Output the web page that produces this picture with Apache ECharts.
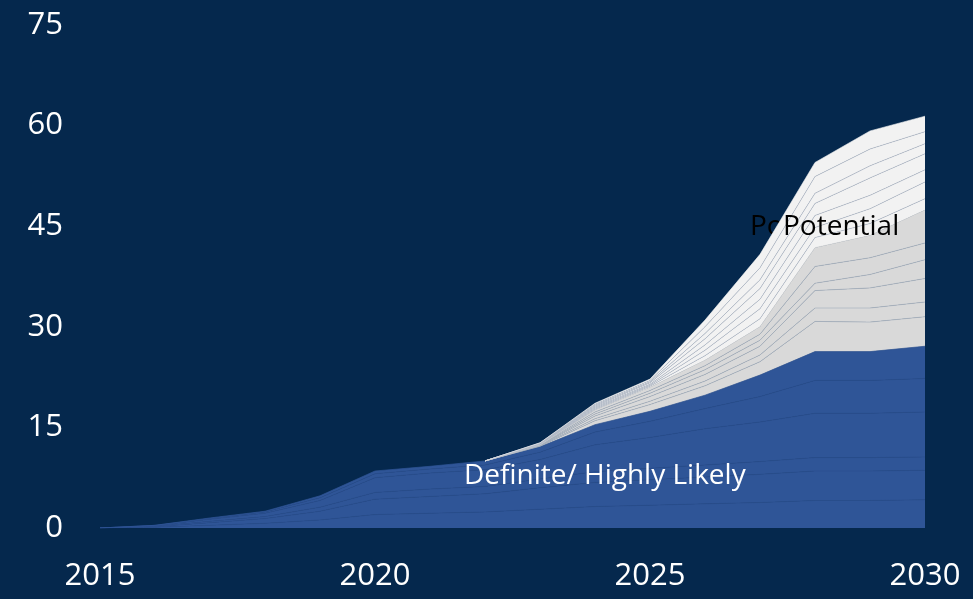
<!DOCTYPE html>
<html>
<head>
<meta charset="utf-8">
<script src="https://cdn.jsdelivr.net/npm/echarts@6/dist/echarts.min.js"></script>
<style>
  html, body { margin: 0; padding: 0; background: #05284d; }
  #chart { width: 973px; height: 599px; }
</style>
</head>
<body>
<div id="chart"></div>
<script>
var years = ['2015','2016','2017','2018','2019','2020','2021','2022','2023','2024','2025','2026','2027','2028','2029','2030'];
var yTicks = [0, 15, 30, 45, 60, 75];

// Definite / Highly Likely layers (blue), bottom to top
var b1 = [0, 0.1, 0.4, 0.7, 1.2, 2.0, 2.2, 2.4, 2.8, 3.2, 3.4, 3.6, 3.8, 4.1, 4.1, 4.2];
var b2 = [0, 0.1, 0.4, 0.7, 1.3, 2.3, 2.5, 2.7, 3.2, 3.6, 3.8, 4.0, 4.2, 4.4, 4.4, 4.4];
var b3 = [0, 0.05, 0.2, 0.3, 0.6, 1.0, 1.1, 1.1, 1.3, 1.6, 1.7, 1.8, 1.9, 2.0, 2.0, 2.0];
var b4 = [0, 0.1, 0.3, 0.5, 1.0, 2.2, 2.4, 2.5, 2.9, 4.0, 4.6, 5.4, 5.9, 6.6, 6.6, 6.7];
var b5 = [0, 0.05, 0.1, 0.2, 0.4, 0.6, 0.6, 0.7, 1.1, 1.9, 2.4, 3.0, 3.8, 4.9, 4.9, 5.0];
var b6 = [0, 0, 0.1, 0.1, 0.3, 0.4, 0.4, 0.6, 0.8, 1.1, 1.5, 2.0, 3.2, 4.3, 4.3, 4.8];

// Potential layers, darker grey
var d1 = ['-','-','-','-','-','-','-', 0, 0.1, 0.6, 1.0, 1.4, 2.0, 4.5, 4.4, 4.4];
var d2 = ['-','-','-','-','-','-','-', 0, 0.05, 0.3, 0.5, 0.7, 1.0, 2.0, 2.1, 2.2];
var d3 = ['-','-','-','-','-','-','-', 0, 0.05, 0.4, 0.7, 1.0, 1.3, 2.6, 3.0, 3.5];
var d4 = ['-','-','-','-','-','-','-', 0, 0.05, 0.3, 0.5, 0.7, 0.9, 1.1, 2.0, 2.8];
var d5 = ['-','-','-','-','-','-','-', 0, 0.05, 0.3, 0.4, 0.6, 0.9, 2.5, 2.5, 2.5];
var d6 = ['-','-','-','-','-','-','-', 0, 0, 0.3, 0.5, 0.8, 1.1, 2.8, 3.3, 4.9];

// Potential layers, light grey
var l1 = ['-','-','-','-','-','-','-', 0, 0.05, 0.1, 0.15, 0.7, 1.2, 1.5, 1.8, 1.7];
var l2 = ['-','-','-','-','-','-','-', 0, 0.05, 0.15, 0.15, 0.8, 1.5, 1.5, 2.2, 2.5];
var l3 = ['-','-','-','-','-','-','-', 0, 0.05, 0.15, 0.15, 0.8, 1.4, 1.8, 2.0, 1.8];
var l4 = ['-','-','-','-','-','-','-', 0, 0.05, 0.15, 0.2, 0.9, 1.6, 1.8, 2.6, 2.4];
var l5 = ['-','-','-','-','-','-','-', 0, 0.05, 0.15, 0.15, 0.8, 1.3, 1.5, 1.8, 1.5];
var l6 = ['-','-','-','-','-','-','-', 0, 0.05, 0.15, 0.2, 1.0, 1.8, 2.5, 2.5, 1.8];
var l7 = ['-','-','-','-','-','-','-', 0, 0, 0.15, 0.2, 1.0, 2.0, 2.1, 2.7, 2.3];

var blueLayers = [b1, b2, b3, b4, b5, b6];
var darkLayers = [d1, d2, d3, d4, d5, d6];
var lightLayers = [l1, l2, l3, l4, l5, l6, l7];

var font = '"Open Sans", "Noto Sans", sans-serif';

function layer(data, fill, line, w) {
    return {
        type: 'line',
        stack: 'total',
        data: data,
        symbol: 'none',
        silent: true,
        lineStyle: { color: line, width: w },
        areaStyle: { color: fill, opacity: 1 }
    };
}

var series = [];
blueLayers.forEach(function (d, i) {
    series.push(layer(d, '#2f5597', i == blueLayers.length - 1 ? '#2f5597' : '#2b4f8e', 0.7));
});
darkLayers.forEach(function (d, i) {
    series.push(layer(d, '#d9d9d9', i == darkLayers.length - 1 ? '#d9d9d9' : '#a8b1bf', 0.7));
});
lightLayers.forEach(function (d, i) {
    series.push(layer(d, '#f2f2f2', i == lightLayers.length - 1 ? '#f2f2f2' : '#b3bbc8', 0.6));
});

var myChart = echarts.init(document.getElementById('chart'));
var option = {
    backgroundColor: '#05284d',
    animation: false,
    grid: { left: 100, right: 48, top: 25, bottom: 71 },
    xAxis: {
        type: 'category',
        data: years,
        boundaryGap: false,
        axisLine: { show: false },
        axisTick: { show: false },
        splitLine: { show: false },
        axisLabel: {
            interval: 4,
            color: '#ffffff',
            fontSize: 31,
            fontFamily: font,
            margin: 33
        }
    },
    yAxis: {
        type: 'value',
        min: yTicks[0],
        max: yTicks[yTicks.length - 1],
        interval: 15,
        axisLine: { show: false },
        axisTick: { show: false },
        splitLine: { show: false },
        axisLabel: {
            color: '#ffffff',
            fontSize: 31,
            fontFamily: font,
            margin: 37,
            padding: [4, 0, 0, 0]
        }
    },
    graphic: [
        {
            type: 'text', left: 750, top: 213, z: 0,
            style: { text: 'Potential', fill: '#000000', font: '28px ' + font }
        },
        {
            type: 'text', left: 783, top: 213, z: 100,
            style: { text: 'Potential', fill: '#000000', font: '28px ' + font }
        },
        {
            type: 'text', left: 464, top: 462, z: 100,
            style: { text: 'Definite/ Highly Likely', fill: '#ffffff', font: '28px ' + font }
        }
    ],
    series: series
};
myChart.setOption(option);
</script>
</body>
</html>
